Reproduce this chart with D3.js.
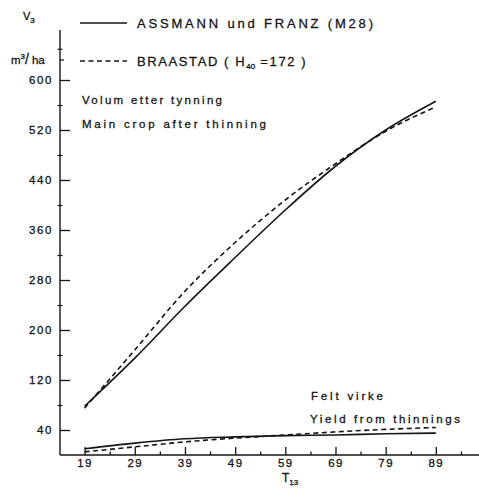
<!DOCTYPE html>
<html>
<head>
<meta charset="utf-8">
<script src="https://cdn.jsdelivr.net/npm/d3@7"></script>
<style>
  html, body { margin: 0; padding: 0; background: #fff; }
  svg { display: block; font-family: "Liberation Sans", "DejaVu Sans", sans-serif; }
  text { fill: #151515; stroke: #151515; stroke-width: 0.3px; }
</style>
</head>
<body>
<svg id="chart" width="479" height="488"></svg>
<script>
// Stand age (T13) at which volumes are given
const ages = [19, 29, 39, 49, 59, 69, 79, 89];

// Main crop after thinning, m3/ha
const mainAssmann  = [78, 155, 238, 316, 392, 462, 520, 566];
const mainBraastad = [75, 168, 262, 340, 408, 466, 518, 557];

// Yield from thinnings, m3/ha
const thinAssmann  = [10, 19, 26, 29, 31, 32, 34, 35];
const thinBraastad = [5, 13, 21, 27, 32, 37, 41, 44];

// Axis ticks
const yMajor = [40, 120, 200, 280, 360, 440, 520, 600];
const yMinor = [80, 160, 240, 320, 400, 480, 560];
const xMajor = [19, 29, 39, 49, 59, 69, 79, 89];
const xMinor = [24, 34, 44, 54, 64, 74, 84, 94];

const ink = "#151515";
const svg = d3.select("#chart");

const x = d3.scaleLinear().domain([14.1, 97.6]).range([60, 479]);
const y = d3.scaleLinear().domain([0, 600]).range([455, 80]);

// Y axis: line runs above the top tick up to the unit label
svg.append("line")
  .attr("x1", x(14.1)).attr("x2", x(14.1))
  .attr("y1", y(680)).attr("y2", y(0))
  .attr("stroke", ink).attr("stroke-width", 1.4);

const yAxis = svg.append("g")
  .attr("transform", `translate(${x(14.1)},0)`)
  .call(d3.axisLeft(y).tickValues(yMajor).tickSizeInner(-10).tickSizeOuter(0).tickPadding(7));
yAxis.select(".domain").remove();
yAxis.selectAll("line").attr("stroke", ink).attr("stroke-width", 1.3);
yAxis.selectAll("text")
  .attr("font-size", 11.5).attr("letter-spacing", 1.6).attr("fill", ink)
  .attr("font-family", "Liberation Sans, sans-serif");

const yAxisMinor = svg.append("g")
  .attr("transform", `translate(${x(14.1) - 2.5},0)`)
  .call(d3.axisLeft(y).tickValues(yMinor.concat([650])).tickSizeInner(-5).tickSizeOuter(0).tickFormat(""));
yAxisMinor.select(".domain").remove();
yAxisMinor.selectAll("line").attr("stroke", ink).attr("stroke-width", 1.2);

// X axis with upward ticks
svg.append("line")
  .attr("x1", x(14.1)).attr("x2", x(97.6))
  .attr("y1", y(0)).attr("y2", y(0))
  .attr("stroke", ink).attr("stroke-width", 1.4);

const xAxis = svg.append("g")
  .attr("transform", `translate(0,${y(0)})`)
  .call(d3.axisBottom(x).tickValues(xMajor).tickSizeInner(-8).tickSizeOuter(0).tickPadding(4));
xAxis.select(".domain").remove();
xAxis.selectAll("line").attr("stroke", ink).attr("stroke-width", 1.3);
xAxis.selectAll("text")
  .attr("font-size", 11.5).attr("letter-spacing", 1.4).attr("fill", ink)
  .attr("font-family", "Liberation Sans, sans-serif");

const xAxisMinor = svg.append("g")
  .attr("transform", `translate(0,${y(0)})`)
  .call(d3.axisBottom(x).tickValues(xMinor).tickSizeInner(-3.5).tickSizeOuter(0).tickFormat(""));
xAxisMinor.select(".domain").remove();
xAxisMinor.selectAll("line").attr("stroke", ink).attr("stroke-width", 1.3);

// Curves
const line = d3.line()
  .x((d, i) => x(ages[i]))
  .y(d => y(d))
  .curve(d3.curveMonotoneX);

const series = [
  { values: mainAssmann,  dash: null },
  { values: mainBraastad, dash: "5,3.5" },
  { values: thinAssmann,  dash: null },
  { values: thinBraastad, dash: "5,3.5" }
];
svg.append("g").selectAll("path")
  .data(series)
  .join("path")
  .attr("d", d => line(d.values))
  .attr("fill", "none")
  .attr("stroke", ink)
  .attr("stroke-width", 1.6)
  .attr("stroke-dasharray", d => d.dash);

// Axis titles
const yTitle = svg.append("text").attr("x", 23).attr("y", 20).attr("font-size", 11);
yTitle.append("tspan").text("V");
yTitle.append("tspan").attr("font-size", 8).attr("dy", 3).text("3");

const unit = svg.append("text").attr("x", 11).attr("y", 64).attr("font-size", 11.5);
unit.append("tspan").text("m");
unit.append("tspan").attr("font-size", 8).attr("dy", -5).text("3");
unit.append("tspan").attr("dy", 5).attr("font-size", 14).text("/");
unit.append("tspan").attr("dx", 3).text("ha");

svg.append("line")
  .attr("x1", x(14.1)).attr("x2", x(14.1) + 4)
  .attr("y1", 60).attr("y2", 60)
  .attr("stroke", ink).attr("stroke-width", 1.2);

const xTitle = svg.append("text").attr("x", 282).attr("y", 482).attr("font-size", 12);
xTitle.append("tspan").text("T");
xTitle.append("tspan").attr("font-size", 8).attr("dy", 3).text("13");

// Legend
const legend = [
  { dash: null, ly: 23 },
  { dash: "5,3.5", ly: 61 }
];
legend.forEach(l => {
  svg.append("line")
    .attr("x1", 80).attr("x2", 127)
    .attr("y1", l.ly).attr("y2", l.ly)
    .attr("stroke", ink).attr("stroke-width", 1.5)
    .attr("stroke-dasharray", l.dash);
});
svg.append("text")
  .attr("x", 137).attr("y", 28).attr("font-size", 13)
  .attr("textLength", 236).attr("lengthAdjust", "spacing")
  .text("ASSMANN und FRANZ (M28)");
const br = svg.append("text").attr("x", 137).attr("y", 66).attr("font-size", 13);
br.append("tspan").attr("letter-spacing", 1.6).text("BRAASTAD ( H");
br.append("tspan").attr("font-size", 8).attr("dy", 3).text("40");
br.append("tspan").attr("dy", -3).attr("letter-spacing", 1.6).text(" =172 )");

// Annotations
const notes = [
  { t: "Volum etter tynning",       x: 82,  y: 104, len: 140 },
  { t: "Main crop after thinning",  x: 82,  y: 128, len: 184 },
  { t: "Felt virke",                x: 311, y: 400, len: 72 },
  { t: "Yield from thinnings",      x: 310, y: 423, len: 150 }
];
notes.forEach(n => {
  svg.append("text")
    .attr("x", n.x).attr("y", n.y).attr("font-size", 11.5)
    .attr("textLength", n.len).attr("lengthAdjust", "spacing")
    .text(n.t);
});
</script>
</body>
</html>
